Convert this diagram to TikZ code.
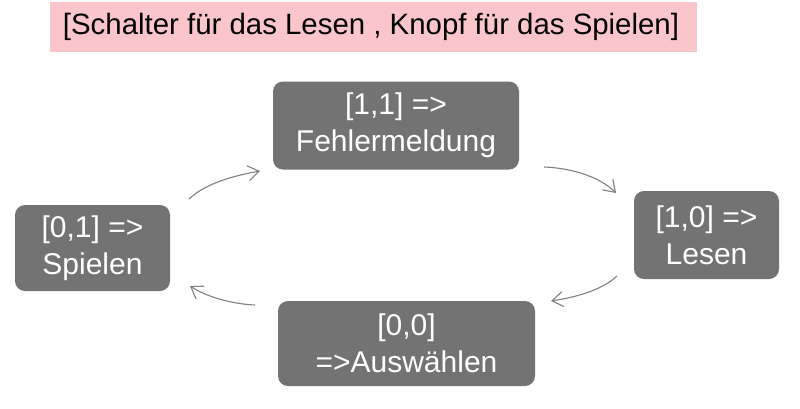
\documentclass[tikz,border=0pt]{standalone}
\usepackage{fontspec}
\setmainfont{Liberation Sans}
\usetikzlibrary{arrows.meta}
\definecolor{pinkbg}{RGB}{250,197,203}
\definecolor{boxgray}{RGB}{115,115,115}
\definecolor{arrowgray}{RGB}{128,128,128}
\begin{document}
\begin{tikzpicture}[x=1pt,y=-1pt,
  statebox/.style={fill=boxgray, rounded corners=10pt, text=white, align=center,
    inner sep=0pt, font=\fontsize{30}{37}\selectfont},
  cyc/.style={draw=arrowgray, line width=1.1pt,
    -{Straight Barb[length=11pt,width=15pt,line width=1.1pt]}}]
\useasboundingbox (0,0) rectangle (800,408);
\node[fill=pinkbg, minimum width=647pt, minimum height=50pt, inner sep=0pt,
  font=\fontsize{29.4}{33}\selectfont] (title) at (373.5,27)
  {[Schalter für das Lesen , Knopf für das Spielen]\hspace*{5pt}};
\node[statebox, minimum width=246pt, minimum height=88pt] (top) at (396,125.5)
  {[1,1] =>\\Fehlermeldung};
\node[statebox, minimum width=145pt, minimum height=88pt] (right) at (706.5,235)
  {[1,0] =>\\Lesen};
\node[statebox, minimum width=257pt, minimum height=85pt] (bottom) at (406.5,343.5)
  {[0,0]\\=>Auswählen};
\node[statebox, minimum width=155pt, minimum height=86pt] (left) at (92.5,248)
  {[0,1] =>\\Spielen};
\coordinate (a1s) at (189,199); \coordinate (a1e) at (260,171);
\coordinate (a2s) at (544,167); \coordinate (a2e) at (616,193);
\coordinate (a3s) at (617,276); \coordinate (a3e) at (551,301);
\coordinate (a4s) at (255,305); \coordinate (a4e) at (190,286);
\draw[cyc] (a1s) .. controls (207,182) and (238,175) .. (a1e);
\draw[cyc] (a2s) .. controls (572,168) and (600,177) .. (a2e);
\draw[cyc] (a3s) .. controls (602,290) and (577,297) .. (a3e);
\draw[cyc] (a4s) .. controls (232,304) and (207,297) .. (a4e);
\end{tikzpicture}
\end{document}
